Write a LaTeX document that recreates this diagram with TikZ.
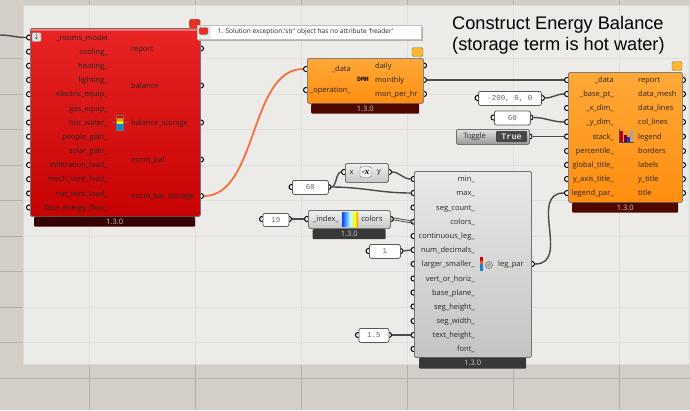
\documentclass[tikz,border=0pt]{standalone}
\usepackage{fontspec}
\setmainfont{Liberation Sans}
\newfontfamily\portfont{Open Sans}
\newfontfamily\panelfont{Liberation Mono}
\newfontfamily\negfont{Liberation Serif}
\definecolor{canvasbg}{HTML}{ECEBE7}
\definecolor{outerbg}{HTML}{D3CEC7}
\definecolor{gridln}{HTML}{E0DFDB}
\definecolor{gridout}{HTML}{B5B1AA}
\definecolor{wirec}{HTML}{4A4A4A}
\definecolor{hotwire}{HTML}{F4703C}
\definecolor{redtop}{HTML}{E82424}
\definecolor{redbot}{HTML}{C60202}
\definecolor{orangetop}{HTML}{FFA838}
\definecolor{orangebot}{HTML}{FF8E10}
\definecolor{graytop}{HTML}{E8E8E6}
\definecolor{graybot}{HTML}{C4C4C4}
\definecolor{redver}{HTML}{380000}
\definecolor{orangever}{HTML}{4E0800}
\definecolor{grayver}{HTML}{383838}
\definecolor{noteor}{HTML}{FFB52E}
\definecolor{noterd}{HTML}{E83020}
\tikzset{
  comp/.style={draw=#1,line width=.8pt,rounded corners=1.5pt,inner sep=0pt,anchor=north west},
  redcomp/.style={comp=black!55,top color=redtop,bottom color=redbot},
  orangecomp/.style={comp=black!50,top color=orangetop,bottom color=orangebot},
  graycomp/.style={comp=black!55,top color=graytop,bottom color=graybot},
  verbar/.style={rounded corners=1pt,inner sep=0pt,anchor=north west,text=white!80!black,font=\portfont\fontsize{7.5}{9}\selectfont},
  port/.style={circle,draw=black,fill=white,line width=1pt,inner sep=0pt,minimum size=5pt},
  lbl/.style={inner sep=0pt,font=\portfont\fontsize{7.5}{9}\selectfont,text=black!85},
  inlbl/.style={lbl,anchor=base east,yshift=-2.7pt},
  outlbl/.style={lbl,anchor=base west,yshift=-2.7pt},
  panel/.style={draw=black!65,fill=white,line width=.8pt,rounded corners=2pt,inner sep=0pt,anchor=north west,font=\panelfont\fontsize{7.5}{8}\selectfont,text=black!60},
  wire/.style={draw=wirec,line width=1.4pt,out=0,in=180},
  balloon/.style={draw=black!50,line width=.4pt,rounded corners=1.5pt,inner sep=0pt,minimum width=10pt,minimum height=8pt}
}
\begin{document}
\begin{tikzpicture}[x=1pt,y=-1pt]
\path[use as bounding box] (0,0) rectangle (690,410);
\fill[outerbg] (0,0) rectangle (690,410);
\foreach \x in {89.5,195.5,301.5,407.5,513.5,619.5}
  \draw[gridout,line width=.6pt] (\x,0)--(\x,410);
\foreach \y in {342,378}
  \draw[gridout,line width=.6pt] (0,\y)--(690,\y);
\foreach \y in {58.5,94,129.5,165,200.5,236,271.5,307}
  \draw[gridout,line width=.6pt] (0,\y)--(23,\y);
\fill[canvasbg] (23,5) rectangle (689,364);
\draw[white!85!black,line width=.8pt] (23,364)--(23,5)--(689,5)--(689,364)--cycle;
\foreach \x in {89.5,195.5,301.5,407.5,513.5,619.5}
  \draw[gridln,line width=.6pt] (\x,5)--(\x,364);
\foreach \y in {58.5,94,129.5,165,200.5,236,271.5,307,342}
  \draw[gridln,line width=.6pt] (23,\y)--(689,\y);
% recipe ports
\foreach \n/\y in {1/37.5,2/51.7,3/65.8,4/80,5/94.2,6/108.4,7/122.5,8/136.7,9/150.9,10/165,11/179.2,12/193.4,13/207.5}
  \node[port] (rin\n) at (29,\y) {};
\foreach \n/\y in {1/48.5,2/85.5,3/122.5,4/159.5,5/196}
  \node[port] (rout\n) at (201,\y) {};
% month ports
\node[port] (min1) at (306,69) {};
\node[port] (min2) at (306,90) {};
\foreach \n/\y in {1/65.5,2/80,3/94}
  \node[port] (mout\n) at (424,\y) {};
% chart ports
\foreach \n/\y in {1/80,2/94,3/108,4/122,5/136.5,6/151,7/165,8/179,9/193} {
  \node[port] (cin\n) at (567,\y) {};
  \node[port] (cout\n) at (683,\y) {};
}
% legend ports
\foreach \n/\y in {1/179,2/193,3/207.5,4/221.7,5/236,6/250,7/264,8/278.5,9/292.5,10/306.5,11/321,12/335,13/349}
  \node[port] (lin\n) at (413.5,\y) {};
\node[port] (lout) at (532,264) {};
% small helper ports
\node[port] (basel) at (477.5,98) {};
\node[port] (baser) at (542,98) {};
\node[port] (ydiml) at (493.5,117.5) {};
\node[port] (ydimr) at (530.5,117.5) {};
\node[port] (togr) at (529.5,136.5) {};
\node[port] (negl) at (344,172) {};
\node[port] (negr) at (389,172) {};
\node[port] (maxl) at (291.5,187) {};
\node[port] (maxr) at (328.5,187) {};
\node[port] (cntl) at (262,219) {};
\node[port] (cntr) at (289,219) {};
\node[port] (coll) at (307,219) {};
\node[port] (colr) at (391,219) {};
\node[port] (decl) at (368.5,251) {};
\node[port] (decr) at (400.5,251) {};
\node[port] (txtl) at (358,335) {};
\node[port] (txtr) at (389,335) {};
% wires
\coordinate (wirefree) at (0,35);
\draw[wire] (wirefree) to (rin1);
\draw[wire,draw=hotwire,line width=1.8pt,looseness=.85] (rout5) to (min1);
\draw[wire] (mout2) to (cin1);
\draw[wire] (baser) to (cin2);
\draw[wire] (ydimr) to (cin4);
\draw[wire] (togr) to (cin5);
\draw[wire] (negr) to (lin1);
\draw[wire] (maxr) to (lin2);
\draw[wire,looseness=.7] (maxr) to (negl);
\draw[wire] (cntr) to (coll);
\draw[wire,line width=.8pt] ([yshift=-1pt]colr.center) to ([yshift=-1pt]lin4.center);
\draw[wire,line width=.8pt] ([yshift=1pt]colr.center) to ([yshift=1pt]lin4.center);
\draw[wire] (decr) to (lin6);
\draw[wire] (txtr) to (lin12);
\draw[wire,looseness=1.2] (lout) to (cin9);
% recipe
\node[redcomp,minimum width=170pt,minimum height=188pt] (recipe) at (30,28) {};
\fill[red!35!white,opacity=.6] (31,29) rectangle (199,31);
\node[verbar,fill=redver,minimum width=161pt,minimum height=10pt] (recipever) at (34,216.5) {1.3.0};
\node[draw=black!50,fill=black!12,rounded corners=1pt,minimum size=9pt,inner sep=0pt,font=\fontsize{7}{7}\selectfont] (recipepin) at (36.5,37) {$\downarrow$};
\foreach \n/\t/\y in {1/\_rooms\_model/37.5,2/cooling\_/51.7,3/heating\_/65.8,4/lighting\_/80,5/electric\_equip\_/94.2,6/gas\_equip\_/108.4,7/hot\_water\_/122.5,8/people\_gain\_/136.7,9/solar\_gain\_/150.9,10/infiltration\_load\_/165,11/mech\_vent\_load\_/179.2,12/nat\_vent\_load\_/193.4,13/face\_energy\_flow\_/207.5}
  \node[inlbl] (rinl\n) at (108,\y) {\t};
\foreach \n/\t/\y in {1/report/48.5,2/balance/85.5,3/balance\_storage/122.5,4/norm\_bal/159.5,5/norm\_bal\_storage/196}
  \node[outlbl] (routl\n) at (131,\y) {\t};
% recipe icon
\fill[red!80!black] (116.5,115) rectangle (123.5,118);
\fill[orange] (116.5,118) rectangle (123.5,121);
\fill[yellow!90!orange] (116.5,121) rectangle (123.5,124);
\fill[cyan!70!blue] (116.5,124) rectangle (123.5,130);
\draw[black!55,line width=.4pt] (116.5,115) rectangle (123.5,130) (112,122.5)--(116.5,122.5) (123.5,122.5)--(128,122.5);
% error balloon and tooltip
\node[balloon,fill=noterd,anchor=north west,minimum width=11pt,minimum height=9pt] (errtop) at (189,19) {};
\fill[black!30] (199,27) rectangle (423,41);
\node[draw=black!25,fill=white,line width=.5pt,minimum width=224pt,minimum height=14pt,inner sep=0pt,anchor=north west] (errbox) at (197,25) {};
\fill[black!8] (197.5,25.5) rectangle (211,38.5);
\node[balloon,fill=noterd,anchor=center,minimum width=9pt,minimum height=7pt] (errsmall) at (203.5,31) {};
\node[anchor=west,inner sep=0pt,font=\portfont\fontsize{6.6}{9}\selectfont,text=black!85] (errtext) at (217.5,32) {1. Solution exception:'str' object has no attribute 'header'};
% month
\node[orangecomp,minimum width=116pt,minimum height=45pt] (month) at (307,58) {};
\node[verbar,fill=orangever,minimum width=108pt,minimum height=10pt] (monthver) at (311,103.5) {1.3.0};
\node[balloon,fill=noteor,anchor=center,minimum width=11pt,minimum height=9pt] (monthnote) at (417.5,52) {};
\node[inlbl] (minl1) at (351,69) {\_data};
\node[inlbl] (minl2) at (351,90) {\_operation\_};
\foreach \n/\t/\y in {1/daily/65.5,2/monthly/80,3/mon\_per\_hr/94}
  \node[outlbl] (moutl\n) at (375,\y) {\t};
\node[inner sep=0pt,font=\panelfont\bfseries\fontsize{6.5}{8}\selectfont] (monthicon) at (363,79.5) {DMH};
% chart
\node[orangecomp,minimum width=114pt,minimum height=130pt] (chart) at (568,72) {};
\node[verbar,fill=orangever,minimum width=106pt,minimum height=10pt] (chartver) at (572,202.5) {1.3.0};
\node[balloon,fill=noteor,anchor=center,minimum width=10pt,minimum height=9pt] (chartnote) at (677,66) {};
\foreach \n/\t/\y in {1/\_data/80,2/\_base\_pt\_/94,3/\_x\_dim\_/108,4/\_y\_dim\_/122,5/stack\_/136.5,6/percentile\_/151,7/global\_title\_/165,8/y\_axis\_title\_/179,9/legend\_par\_/193}
  \node[inlbl] (cinl\n) at (614,\y) {\t};
\foreach \n/\t/\y in {1/report/80,2/data\_mesh/94,3/data\_lines/108,4/col\_lines/122,5/legend/136.5,6/borders/151,7/labels/165,8/y\_title/179,9/title/193}
  \node[outlbl] (coutl\n) at (638,\y) {\t};
% chart icon
\fill[red!75!black] (620,131) rectangle (623,142);
\fill[red!55!blue!70!black] (624,135) rectangle (627,142);
\fill[blue!50!black!80] (627,137) rectangle (630,142);
\fill[black!35] (630,130) rectangle (633,142);
\draw[black!70,line width=.6pt] (619,129)--(619,142.5)--(634,142.5);
% legend
\node[graycomp,minimum width=117pt,minimum height=186pt] (legend) at (414,171) {};
\node[verbar,fill=grayver,minimum width=107pt,minimum height=11pt] (legendver) at (419,357.5) {1.3.0};
\foreach \n/\t/\y in {1/min\_/179,2/max\_/193,3/seg\_count\_/207.5,4/colors\_/221.7,5/continuous\_leg\_/236,6/num\_decimals\_/250,7/larger\_smaller\_/264,8/vert\_or\_horiz\_/278.5,9/base\_plane\_/292.5,10/seg\_height\_/306.5,11/seg\_width\_/321,12/text\_height\_/335,13/font\_/349}
  \node[inlbl] (linl\n) at (475,\y) {\t};
\node[outlbl] (loutl) at (498,264) {leg\_par};
% legend icon
\fill[red!80!black] (480,257) rectangle (483,261);
\fill[orange!70!red] (480,261) rectangle (483,264);
\fill[cyan!70!blue] (480,264) rectangle (483,271);
\draw[black!55,line width=.6pt] (489,265) circle[radius=3.5] (489,265) circle[radius=1.5];
% panels
\node[panel,minimum width=63pt,minimum height=14pt] (basept) at (478,91) {-200, 0, 0};
\node[panel,minimum width=36pt,minimum height=14pt] (ydim) at (494,110.5) {60};
\node[panel,minimum width=36pt,minimum height=14pt] (maxval) at (292,180) {60};
\node[panel,minimum width=26pt,minimum height=13pt] (cnt) at (262.5,213) {19};
\node[panel,minimum width=31pt,minimum height=14pt] (decim) at (369,244) {1};
\node[panel,minimum width=30pt,minimum height=14pt] (txth) at (358.5,328) {1.5};
% toggle
\node[comp=black!55,top color=black!12,bottom color=black!40,minimum width=73pt,minimum height=15pt] (toggle) at (456,129) {};
\node[inner sep=0pt,font=\portfont\fontsize{7.5}{9}\selectfont,text=black!80] (togglelbl) at (474.5,136.5) {Toggle};
\node[fill=black!72,rounded corners=1pt,minimum width=31pt,minimum height=11pt,inner sep=0pt,text=white!85!black,font=\panelfont\bfseries\fontsize{8.5}{9}\selectfont] (togglebtn) at (511.5,136.5) {True};
% negate
\node[comp=black!55,top color=black!6,bottom color=black!22,minimum width=43pt,minimum height=19pt] (neg) at (345,163) {};
\node[lbl] (negx) at (351.5,172.5) {x};
\node[lbl] (negy) at (379,172.5) {y};
\node[draw=black!55,fill=black!6,rounded corners=1.5pt,minimum size=11pt,inner sep=0pt,font=\negfont\bfseries\itshape\fontsize{9}{9}\selectfont] (negicon) at (365.5,172) {-x};
% colors
\node[comp=black!55,top color=black!6,bottom color=black!22,minimum width=82pt,minimum height=18pt] (colors) at (308,210) {};
\node[verbar,fill=grayver,minimum width=73pt,minimum height=10pt] (colorsver) at (312.5,229) {1.3.0};
\node[lbl] (colorsin) at (326,219) {\_index\_};
\node[lbl] (colorsout) at (372,219) {colors};
\shade[left color=blue!75!cyan,right color=cyan!30] (342,212) rectangle (350,226);
\shade[left color=cyan!30,right color=yellow] (350,212) rectangle (355,226);
\shade[left color=yellow,right color=orange] (355,212) rectangle (358,226);
% title
\node[anchor=base west,inner sep=0pt,font=\fontsize{18.2}{21}\selectfont] (title1) at (452,29.5) {Construct Energy Balance};
\node[anchor=base west,inner sep=0pt,font=\fontsize{18.2}{21}\selectfont] (title2) at (452,50) {(storage term is hot water)};
\end{tikzpicture}
\end{document}
